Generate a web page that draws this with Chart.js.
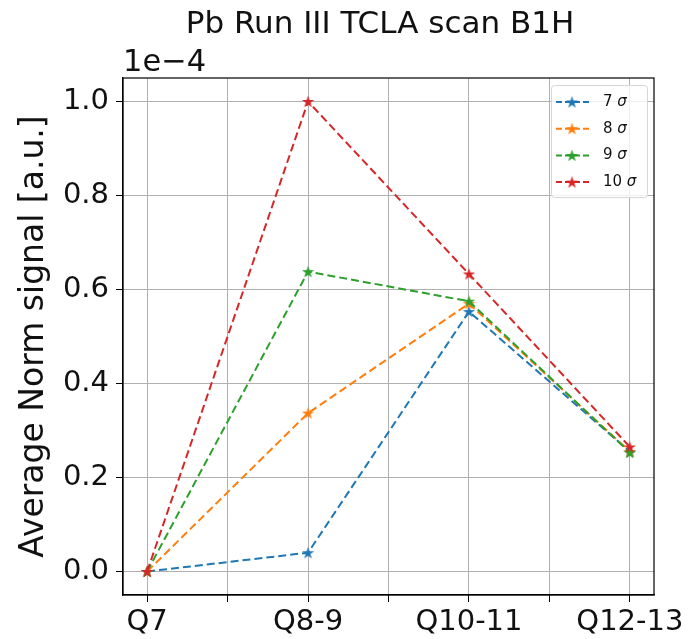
<!DOCTYPE html>
<html>
<head>
<meta charset="utf-8">
<script src="https://cdn.jsdelivr.net/npm/chart.js@4/dist/chart.umd.min.js"></script>
<style>
  html, body { margin: 0; padding: 0; background: #ffffff; }
  canvas { display: block; }
</style>
</head>
<body>
<canvas id="chart" width="689" height="639"></canvas>
<script>
// x positions are category indices, y values in units of 1e-4
const categories = ["Q7", "Q8-9", "Q10-11", "Q12-13"];
const seriesLabels = ["7 σ", "8 σ", "9 σ", "10 σ"];
const sigma7 = [0, 0.04, 0.553, 0.255];
const sigma8 = [0, 0.337, 0.57, 0.255];
const sigma9 = [0, 0.638, 0.575, 0.253];
const sigma10 = [0, 1.0, 0.633, 0.265];
const yTicks = [0, 0.2, 0.4, 0.6, 0.8, 1.0];
const xTicks = [0, 0.5, 1, 1.5, 2, 2.5, 3];

const colors = ["#1f77b4", "#ff7f0e", "#2ca02c", "#d62728"];
const font = "DejaVu Sans";
const textColor = "#111111";

const makeStar = (color, size) => {
    const c = document.createElement("canvas");
    c.width = size;
    c.height = size;
    const g = c.getContext("2d");
    const cx = size / 2, cy = size / 2 + 0.6;
    const outer = size / 2, inner = outer * 0.38;
    g.beginPath();
    for (let i = 0; i < 10; i += 1) {
        const r = i % 2 === 0 ? outer : inner;
        const a = -Math.PI / 2 + i * Math.PI / 5;
        const px = cx + r * Math.cos(a);
        const py = cy + r * Math.sin(a);
        if (i === 0) g.moveTo(px, py); else g.lineTo(px, py);
    }
    g.closePath();
    g.fillStyle = color;
    g.fill();
    return c;
};

const allSeries = [sigma7, sigma8, sigma9, sigma10];
const stars = colors.map((c) => makeStar(c, 13));

const datasets = allSeries.map((values, i) => ({
    label: seriesLabels[i],
    data: values.map((v, k) => ({ x: k, y: v })),
    borderColor: colors[i],
    backgroundColor: colors[i],
    borderWidth: 2,
    borderDash: [8, 4],
    pointStyle: stars[i],
    pointRadius: 6,
    pointHoverRadius: 6,
    order: allSeries.length - 1 - i,
    tension: 0
}));

const decorations = {
    id: "decorations",
    afterDraw(chart) {
        const { ctx, chartArea } = chart;
        ctx.save();

        // top and right spines
        ctx.strokeStyle = "#000000";
        ctx.lineWidth = 1.2;
        ctx.strokeRect(chartArea.left, chartArea.top, chartArea.right - chartArea.left, chartArea.bottom - chartArea.top);

        // title
        ctx.fillStyle = textColor;
        ctx.font = `31px "${font}"`;
        ctx.textAlign = "center";
        ctx.textBaseline = "alphabetic";
        ctx.fillText("Pb Run III TCLA scan B1H", 380, 33);

        // offset text
        ctx.font = `30.5px "${font}"`;
        ctx.textAlign = "left";
        ctx.fillText("1e\u22124", chartArea.left, 71);

        // legend
        const bx = 551, by = 85, bw = 96, bh = 112;
        ctx.fillStyle = "rgba(255,255,255,0.8)";
        ctx.strokeStyle = "#d6d6d6";
        ctx.lineWidth = 1;
        ctx.beginPath();
        ctx.roundRect(bx + 0.5, by + 0.5, bw, bh, 3);
        ctx.fill();
        ctx.stroke();

        seriesLabels.forEach((label, i) => {
            const y = 102 + i * 26.7;
            ctx.strokeStyle = colors[i];
            ctx.lineWidth = 2;
            ctx.setLineDash([6, 3]);
            ctx.beginPath();
            ctx.moveTo(556, y);
            ctx.lineTo(589, y);
            ctx.stroke();
            ctx.setLineDash([]);
            ctx.drawImage(stars[i], 572 - 6.5, y - 6.5);

            const [num, sym] = label.split(" ");
            ctx.fillStyle = textColor;
            ctx.font = `15px "${font}"`;
            ctx.textBaseline = "middle";
            ctx.fillText(num + " ", 603, y);
            const w = ctx.measureText(num + " ").width;
            ctx.font = `italic 15px "${font}"`;
            ctx.fillText(sym, 603 + w, y);
        });

        ctx.restore();
    }
};

new Chart(document.getElementById("chart"), {
    type: "line",
    data: { datasets },
    options: {
        responsive: false,
        animation: false,
        devicePixelRatio: 1,
        layout: { padding: { top: 78, right: 35, bottom: 0, left: 0 } },
        plugins: {
            legend: { display: false },
            tooltip: { enabled: false }
        },
        scales: {
            x: {
                type: "linear",
                min: -0.15,
                max: 3.15,
                afterBuildTicks: (scale) => {
                    scale.ticks = xTicks.map((v) => ({ value: v }));
                },
                afterFit: (scale) => { scale.height = 44; },
                ticks: {
                    autoSkip: false,
                    maxRotation: 0,
                    padding: 3,
                    color: textColor,
                    font: { family: font, size: 29 },
                    callback: (v) => (Number.isInteger(v) ? categories[v] : "")
                },
                grid: {
                    color: "#b0b0b0",
                    lineWidth: 1,
                    tickLength: 7,
                    tickColor: "#000000"
                },
                border: { color: "#000000", width: 1.2 }
            },
            y: {
                type: "linear",
                min: -0.05,
                max: 1.05,
                afterBuildTicks: (scale) => {
                    scale.ticks = yTicks.map((v) => ({ value: v }));
                },
                afterFit: (scale) => { scale.width = 123; },
                ticks: {
                    padding: 7,
                    color: textColor,
                    font: { family: font, size: 29 },
                    callback: (v) => v.toFixed(1)
                },
                grid: {
                    color: "#b0b0b0",
                    lineWidth: 1,
                    tickLength: 7,
                    tickColor: "#000000"
                },
                border: { color: "#000000", width: 1.2 },
                title: {
                    display: true,
                    text: "Average Norm signal [a.u.]",
                    color: textColor,
                    font: { family: font, size: 33 },
                    padding: { top: 15, bottom: 0 }
                }
            }
        }
    },
    plugins: [decorations]
});
</script>
</body>
</html>
